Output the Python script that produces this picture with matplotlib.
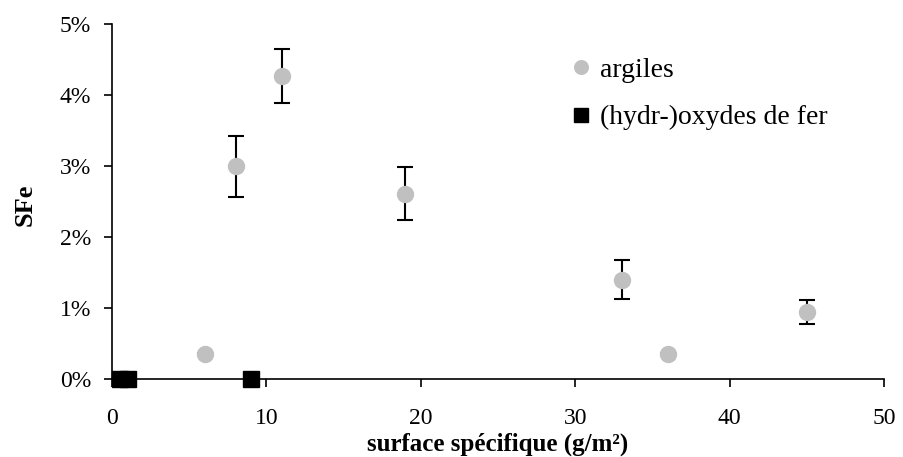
import matplotlib.pyplot as plt
from matplotlib.ticker import FuncFormatter

plt.rcParams['font.family'] = ['Liberation Serif', 'DejaVu Serif']

# argiles (clays): surface spécifique vs SFe (%)
argiles_x = [6, 8, 11, 19, 33, 36, 45]
argiles_y = [0.35, 3.0, 4.27, 2.61, 1.40, 0.35, 0.94]
argiles_err = [0.02, 0.43, 0.38, 0.37, 0.27, 0.02, 0.17]

# (hydr-)oxydes de fer
oxydes_x = [0.5, 1.0, 9.0]
oxydes_y = [0.0, 0.0, 0.0]

fig = plt.figure(figsize=(9.04, 4.57), dpi=100)
ax = fig.add_axes([0.124, 0.171, 0.854, 0.776])

ax.errorbar(argiles_x, argiles_y, yerr=argiles_err, fmt='none',
            ecolor='black', elinewidth=1.5, capsize=6, capthick=1.5, zorder=2)
ax.plot(argiles_x, argiles_y, 'o', color='#c0c0c0', markersize=11.5,
        label='argiles', zorder=3, clip_on=False)
ax.plot(oxydes_x, oxydes_y, 's', color='black', markersize=11.5,
        label='(hydr-)oxydes de fer', zorder=4, clip_on=False)

ax.set_xlim(0, 50)
ax.set_ylim(0, 5)
ax.set_xticks([0, 10, 20, 30, 40, 50])
ax.set_yticks([0, 1, 2, 3, 4, 5])
ax.yaxis.set_major_formatter(FuncFormatter(lambda v, p: f'{v:.0f}%'))

for s in ['top', 'right']:
    ax.spines[s].set_visible(False)
for s in ['left', 'bottom']:
    ax.spines[s].set_linewidth(1.2)
ax.tick_params(direction='out', length=6, width=1.2, labelsize=17)
ax.tick_params(axis='x', pad=15)
ax.tick_params(axis='y', pad=9)

ax.set_xlabel('surface spécifique (g/m²)', fontsize=18, fontweight='bold')
ax.xaxis.set_label_coords(0.5, -0.151)
ax.set_ylabel('SFe', fontsize=19, fontweight='bold')
ax.yaxis.set_label_coords(-0.098, 0.49)

ax.legend(loc='upper left', bbox_to_anchor=(0.557, 0.977), frameon=False,
          fontsize=20, handletextpad=0.2, labelspacing=0.8, handlelength=1.0,
          markerscale=0.85)

fig.savefig('out.png', dpi=100)
